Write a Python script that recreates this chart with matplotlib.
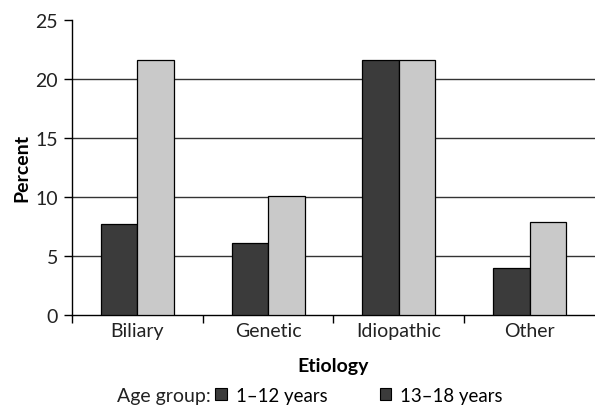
import numpy as np
import matplotlib
matplotlib.use("Agg")
import matplotlib.pyplot as plt
from matplotlib.patches import Patch

plt.rcParams['font.family'] = ['Lato', 'DejaVu Sans']

categories = ["Biliary", "Genetic", "Idiopathic", "Other"]
young = [7.7, 6.1, 21.6, 4.0]      # 1-12 years
teen = [21.6, 10.1, 21.6, 7.9]     # 13-18 years
yticks = [0, 5, 10, 15, 20, 25]

DARK = "#3b3b3b"
LIGHT = "#c9c9c9"
TXT = "#222222"

fig = plt.figure(figsize=(5.95, 4.10), dpi=100)
ax = fig.add_axes([0.121, 0.229, 0.879, 0.721])

x = np.arange(len(categories))
w = 0.28
ax.bar(x - w / 2, young, w, color=DARK, edgecolor="black", linewidth=0.9, zorder=3)
ax.bar(x + w / 2, teen, w, color=LIGHT, edgecolor="black", linewidth=0.9, zorder=3)

ax.set_xlim(-0.5, len(categories) - 0.5)
ax.set_ylim(0, 25)
ax.set_yticks(yticks)
for v in yticks[1:-1]:
    ax.axhline(v, color="#333333", linewidth=1.0, zorder=1)

ax.set_xticks(x)
ax.set_xticklabels(categories, fontsize=14, color=TXT)
ax.set_xticks(np.arange(len(categories)) - 0.5, minor=True)
ax.tick_params(axis="x", which="major", length=0, pad=5)
ax.tick_params(axis="x", which="minor", length=6, width=1, direction="out")
ax.tick_params(axis="y", length=6, width=1, labelsize=14, labelcolor=TXT, pad=4)

for s in ["top", "right"]:
    ax.spines[s].set_visible(False)
for s in ["left", "bottom"]:
    ax.spines[s].set_linewidth(1.0)

ax.set_xlabel("Etiology", fontsize=14, fontweight="bold")
ax.xaxis.set_label_coords(0.5, -0.142)
ax.set_ylabel("Percent", fontsize=14, fontweight="bold")
ax.yaxis.set_label_coords(-0.079, 0.5)

fig.text(0.355, 0.034, "Age group:", fontsize=14, ha="right", va="center", color=TXT)
handles = [Patch(facecolor=DARK, edgecolor="black", linewidth=0.8),
           Patch(facecolor=DARK, edgecolor="black", linewidth=0.8)]
fig.legend(handles, ["1–12 years", "13–18 years"], ncol=2, frameon=False,
           loc="center left", bbox_to_anchor=(0.362, 0.034), fontsize=13.4,
           borderpad=0, borderaxespad=0,
           handlelength=0.6, handleheight=0.6, handletextpad=0.5, columnspacing=2.8)

fig.savefig("out.png", dpi=100)
